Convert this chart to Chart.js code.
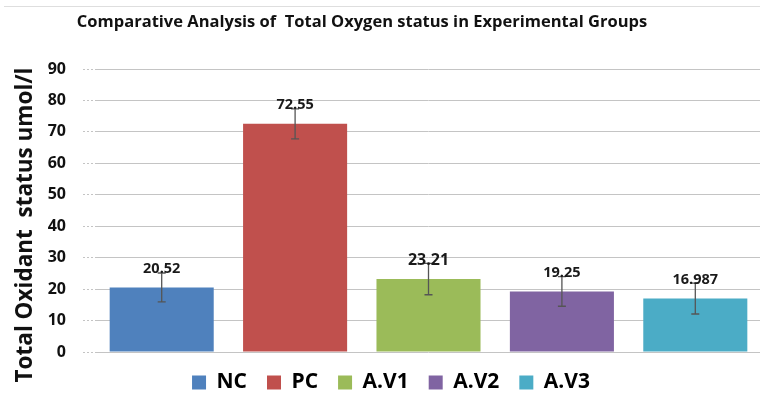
<!DOCTYPE html>
<html>
<head>
<meta charset="utf-8">
<script src="https://cdn.jsdelivr.net/npm/chart.js@4.4.1/dist/chart.umd.min.js"></script>
<style>
  html, body { margin: 0; padding: 0; background: #fff; overflow: hidden; }
  #wrap { position: relative; width: 768px; height: 403px; }
</style>
</head>
<body>
<div id="wrap"><canvas id="toxChart"></canvas></div>
<script>
// data
const groups = ['NC', 'PC', 'A.V1', 'A.V2', 'A.V3'];
const toxValues = [20.52, 72.55, 23.21, 19.25, 16.987];
const toxLabels = ['20.52', '72.55', '23.21', '19.25', '16.987'];
const toxErrors = [4.6, 4.8, 5.0, 4.7, 4.9];
const yTicks = [0, 10, 20, 30, 40, 50, 60, 70, 80, 90];

const colors = ['#4F81BD', '#C0504D', '#9BBB59', '#8064A2', '#4BACC6'];
const FONT = '"Open Sans"';
const ctx = document.getElementById('toxChart');

// error bars + value labels + titles
const extras = {
  id: 'extras',
  afterDatasetsDraw(chart) {
    const c = chart.ctx;
    const y = chart.scales.y;
    const bars = chart.getDatasetMeta(0).data;
    c.save();
    c.strokeStyle = '#555';
    c.lineWidth = 1.3;
    bars.forEach((bar, i) => {
      const top = y.getPixelForValue(toxValues[i] + toxErrors[i]);
      const bot = y.getPixelForValue(toxValues[i] - toxErrors[i]);
      c.beginPath();
      c.moveTo(bar.x, top); c.lineTo(bar.x, bot);
      c.moveTo(bar.x - 4, top); c.lineTo(bar.x + 4, top);
      c.moveTo(bar.x - 4, bot); c.lineTo(bar.x + 4, bot);
      c.stroke();
    });
    c.fillStyle = '#1a1a1a';
    c.textAlign = 'center';
    c.textBaseline = 'middle';
    bars.forEach((bar, i) => {
      c.font = 'bold ' + (i === 2 ? 16 : 14.5) + 'px ' + FONT;
      c.fillText(toxLabels[i], bar.x, y.getPixelForValue(toxValues[i]) - 19);
    });
    c.restore();
  },
  afterDraw(chart) {
    const c = chart.ctx;
    c.save();
    c.strokeStyle = '#dedede';
    c.lineWidth = 1;
    c.beginPath(); c.moveTo(4, 6.5); c.lineTo(768, 6.5); c.stroke();
    c.fillStyle = '#111';
    c.textAlign = 'center';
    c.textBaseline = 'middle';
    c.font = 'bold 16.5px ' + FONT;
    c.fillText('Comparative Analysis of  Total Oxygen status in Experimental Groups', 362, 22);
    c.translate(26, 225);
    c.rotate(-Math.PI / 2);
    c.font = 'bold 22.5px ' + FONT;
    c.fillText('Total Oxidant  status umol/l', 0, 0);
    c.restore();
  }
};

new Chart(ctx, {
  type: 'bar',
  data: {
    labels: groups,
    datasets: [{
      label: 'TOS',
      data: toxValues,
      backgroundColor: colors,
      borderWidth: 0,
      barPercentage: 0.78,
      categoryPercentage: 1
    }]
  },
  options: {
    responsive: true,
    maintainAspectRatio: false,
    animation: false,
    layout: { padding: { left: 20, right: 6, top: 69, bottom: 0 } },
    plugins: {
      title: { display: false },
      tooltip: { enabled: false },
      legend: {
        position: 'bottom',
        maxHeight: 52,
        labels: {
          boxWidth: 14,
          boxHeight: 14,
          padding: 20,
          color: '#111',
          font: { family: FONT, size: 21, weight: 'bold' },
          generateLabels: () => groups.map((g, i) => ({
            text: g, fillStyle: colors[i], strokeStyle: colors[i], lineWidth: 0, hidden: false, index: i
          }))
        }
      }
    },
    scales: {
      x: { display: false },
      y: {
        min: 0,
        max: 90,
        afterFit: (s) => { s.width = 75; },
        afterBuildTicks: (s) => { s.ticks = yTicks.map(v => ({ value: v })); },
        border: { display: false },
        grid: {
          color: '#c4c4c4',
          borderDash: [2, 2],
          tickBorderDash: [2, 2],
          tickColor: '#c4c4c4',
          tickLength: 12
        },
        ticks: {
          padding: 17,
          color: '#111',
          font: { family: FONT, size: 16, weight: 'bold' }
        }
      }
    }
  },
  plugins: [extras]
});
</script>
</body>
</html>
